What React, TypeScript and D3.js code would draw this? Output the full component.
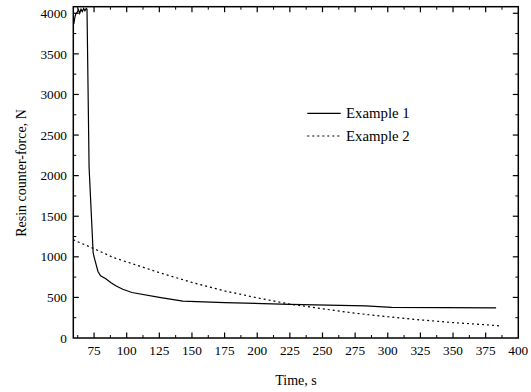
import React from "react";
import * as d3 from "d3";

const ex1Time = [59.5, 60.3, 61, 62, 63, 64, 65, 66, 67, 68, 69, 69.6, 71.2, 74.3, 75, 78, 80, 84, 88, 92, 97, 104, 125, 143, 175, 225, 283, 303, 383];
const ex1Force = [3870, 3950, 3990, 4010, 4045, 4000, 4050, 4020, 4060, 4030, 4060, 4050, 2100, 1050, 1000, 820, 765, 730, 680, 640, 600, 560, 500, 455, 435, 415, 395, 378, 370];

const ex2Time = [59, 75, 90, 110, 125, 150, 175, 200, 225, 250, 275, 300, 325, 350, 375, 387];
const ex2Force = [1210, 1100, 990, 885, 805, 685, 580, 495, 418, 360, 305, 262, 223, 190, 163, 148];

const xTicks = [75, 100, 125, 150, 175, 200, 225, 250, 275, 300, 325, 350, 375, 400];
const yTicks = [0, 500, 1000, 1500, 2000, 2500, 3000, 3500, 4000];
const seriesNames = ["Example 1", "Example 2"];

const W = 531, H = 392;
const L = 73.3, R = 518.3, T = 6.7, B = 338;
const FONT = "'Liberation Serif', 'Times New Roman', serif";

export default function App() {
  const x = d3.scaleLinear().domain([59.1, 400]).range([L, R]);
  const y = d3.scaleLinear().domain([0, 4081]).range([B, T]);
  const line = d3.line<[number, number]>().x(d => x(d[0])).y(d => y(d[1]));
  const d1 = line(ex1Time.map((t, i) => [t, ex1Force[i]]))!;
  const d2 = line(ex2Time.map((t, i) => [t, ex2Force[i]]))!;

  const xMinor: number[] = [];
  for (let v = 62.5; v < 400; v += 12.5) xMinor.push(v);
  const yMinor: number[] = [];
  for (let v = 250; v < 4081; v += 500) yMinor.push(v);

  const major = 5.5, minor = 3;
  return (
    <svg width={W} height={H} style={{ position: "absolute", left: 0, top: 0, background: "#fff" }} fontFamily={FONT}>
      <rect x={0} y={0} width={W} height={H} fill="#fff" />
      <path d={d1} fill="none" stroke="#000" strokeWidth={1.2} />
      <path d={d2} fill="none" stroke="#000" strokeWidth={1.2} strokeDasharray="2,3" />
      {xTicks.filter(v => v < 400).map(v => (
        <g key={"xt" + v}>
          <line x1={x(v)} x2={x(v)} y1={B} y2={B - major} stroke="#000" strokeWidth={1.2} />
          <line x1={x(v)} x2={x(v)} y1={T} y2={T + major} stroke="#000" strokeWidth={1.2} />
        </g>
      ))}
      {xMinor.filter(v => !xTicks.includes(v)).map(v => (
        <g key={"xm" + v}>
          <line x1={x(v)} x2={x(v)} y1={B} y2={B - minor} stroke="#000" strokeWidth={1} />
          <line x1={x(v)} x2={x(v)} y1={T} y2={T + minor} stroke="#000" strokeWidth={1} />
        </g>
      ))}
      {yTicks.filter(v => v > 0).map(v => (
        <g key={"yt" + v}>
          <line x1={L} x2={L + major} y1={y(v)} y2={y(v)} stroke="#000" strokeWidth={1.2} />
          <line x1={R} x2={R - major} y1={y(v)} y2={y(v)} stroke="#000" strokeWidth={1.2} />
        </g>
      ))}
      {yMinor.map(v => (
        <g key={"ym" + v}>
          <line x1={L} x2={L + minor} y1={y(v)} y2={y(v)} stroke="#000" strokeWidth={1} />
          <line x1={R} x2={R - minor} y1={y(v)} y2={y(v)} stroke="#000" strokeWidth={1} />
        </g>
      ))}
      <rect x={L} y={T} width={R - L} height={B - T} fill="none" stroke="#000" strokeWidth={1.5} />
      {xTicks.map(v => (
        <text key={"xl" + v} x={x(v)} y={355} textAnchor="middle" fontSize={13.3}>{v}</text>
      ))}
      {yTicks.map(v => (
        <text key={"yl" + v} x={67} y={y(v)} dy="0.35em" textAnchor="end" fontSize={13.3}>{v}</text>
      ))}
      <text x={296} y={385} textAnchor="middle" fontSize={14}>Time, s</text>
      <text transform={`translate(26,173) rotate(-90)`} textAnchor="middle" fontSize={14}>Resin counter-force, N</text>
      <line x1={307.3} x2={340.7} y1={113.3} y2={113.3} stroke="#000" strokeWidth={1.2} />
      <text x={346} y={113.3} dy="0.35em" fontSize={14.8}>{seriesNames[0]}</text>
      <line x1={307.3} x2={340.7} y1={136} y2={136} stroke="#000" strokeWidth={1.2} strokeDasharray="2,3" />
      <text x={346} y={136} dy="0.35em" fontSize={14.8}>{seriesNames[1]}</text>
    </svg>
  );
}
